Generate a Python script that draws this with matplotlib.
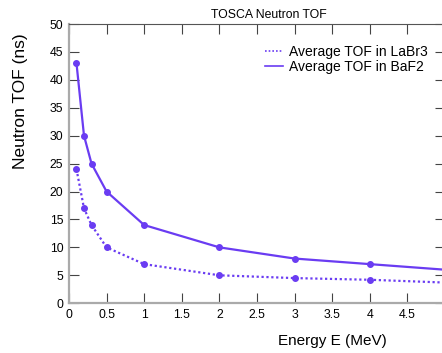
import matplotlib
matplotlib.use('Agg')
import matplotlib.pyplot as plt

plt.rcParams['font.family'] = ['Liberation Sans', 'DejaVu Sans']

# neutron energy (MeV) and average time of flight (ns)
E = [0.1, 0.2, 0.3, 0.5, 1, 2, 3, 4, 5]
tof_labr3 = [24, 17, 14, 10, 7, 5, 4.5, 4.2, 3.7]
tof_baf2 = [43, 30, 25, 20, 14, 10, 8, 7, 6]

xticks = [0, 0.5, 1, 1.5, 2, 2.5, 3, 3.5, 4, 4.5]
xticklabels = ['0', '0.5', '1', '1.5', '2', '2.5', '3', '3.5', '4', '4.5']
yticks = [0, 5, 10, 15, 20, 25, 30, 35, 40, 45, 50]

col = '#6a3cf2'

fig = plt.figure(figsize=(4.42, 3.53), dpi=100)
ax = fig.add_axes([0.156, 0.141, 0.851, 0.791])

ax.plot(E, tof_labr3, color=col, lw=1.6, ls=(0, (1, 1.2)), marker='o', ms=4,
        label='Average TOF in LaBr3')
ax.plot(E, tof_baf2, color=col, lw=1.6, ls='-', marker='o', ms=4,
        label='Average TOF in BaF2')

ax.set_xlim(0, 5)
ax.set_ylim(0, 50)
ax.set_xticks(xticks)
ax.set_xticklabels(xticklabels)
ax.set_yticks(yticks)
ax.tick_params(direction='in', length=7.5, width=0.8, color='#444444',
               labelsize=8.8, top=True, right=True, pad=4)

for s in ['left', 'bottom']:
    ax.spines[s].set_color('#aaaaaa')
    ax.spines[s].set_linewidth(1.6)
ax.spines['top'].set_color('#555555')
ax.spines['top'].set_linewidth(0.8)
ax.spines['right'].set_visible(False)

leg = ax.legend(loc='upper right', bbox_to_anchor=(0.955, 0.925), frameon=False,
                fontsize=10, handlelength=1.3, handletextpad=0.45,
                labelspacing=0.05, borderaxespad=0, borderpad=0)
for h in leg.get_lines():
    h.set_marker('')
    h.set_linewidth(1.2)

fig.text(269 / 442, 1 - 15 / 353, 'TOSCA Neutron TOF', ha='center', va='center',
         fontsize=8.8)
fig.text(332 / 442, 1 - 341 / 353, 'Energy E (MeV)', ha='center', va='center',
         fontsize=11)
fig.text(21 / 442, 1 - 101 / 353, 'Neutron TOF (ns)', ha='center', va='center',
         rotation=90, fontsize=12.5)

fig.savefig('out.png', dpi=100)
